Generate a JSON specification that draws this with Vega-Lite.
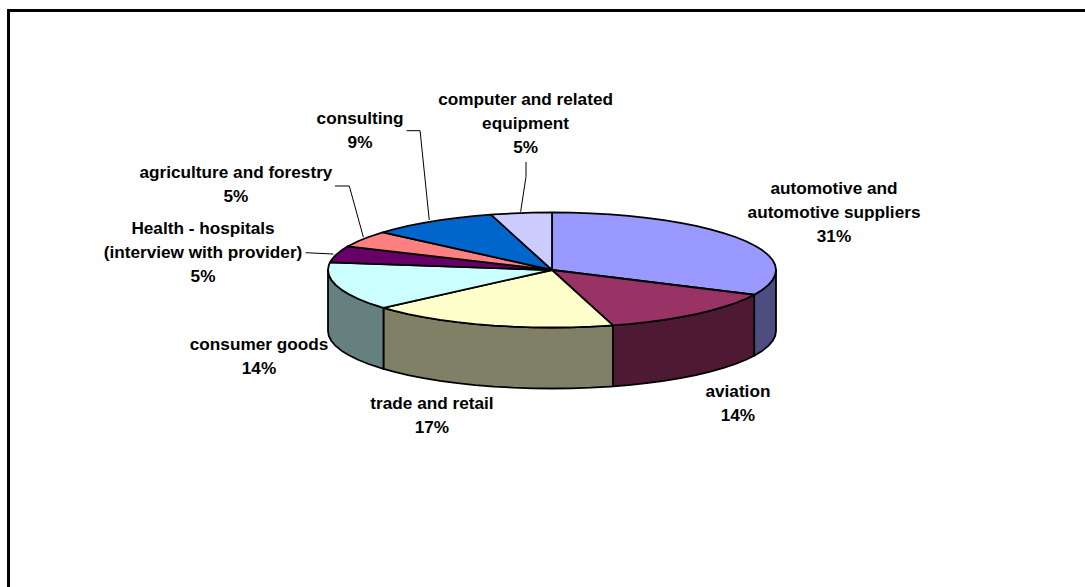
{
"$schema":"https://vega.github.io/schema/vega-lite/v6.json",
"width":1085,"height":587,"padding":0,
"autosize":{"type":"none"},
"background":"white",
"config":{"view":{"stroke":null}},
"datasets":{
"frame":[{"i":0,"u":-2.4263,"v":-5.513},{"i":1,"u":-2.4263,"v":4.513},{"i":2,"u":2.3795,"v":4.513}],
"walls":[
{"slice":"automotive wall","u":1,"v":0,"v2":-1.061},{"slice":"automotive wall","u":0.9962,"v":-0.0872,"v2":-1.1482},{"slice":"automotive wall","u":0.9848,"v":-0.1736,"v2":-1.2346},{"slice":"automotive wall","u":0.9659,"v":-0.2588,"v2":-1.3198},{"slice":"automotive wall","u":0.9397,"v":-0.342,"v2":-1.403},{"slice":"automotive wall","u":0.9063,"v":-0.4226,"v2":-1.4836},{"slice":"automotive wall","u":0.9026,"v":-0.4305,"v2":-1.4915},
{"slice":"aviation wall","u":0.9026,"v":-0.4305,"v2":-1.4915},{"slice":"aviation wall","u":0.866,"v":-0.5,"v2":-1.561},{"slice":"aviation wall","u":0.8192,"v":-0.5736,"v2":-1.6346},{"slice":"aviation wall","u":0.766,"v":-0.6428,"v2":-1.7038},{"slice":"aviation wall","u":0.7071,"v":-0.7071,"v2":-1.7681},{"slice":"aviation wall","u":0.6428,"v":-0.766,"v2":-1.827},{"slice":"aviation wall","u":0.5736,"v":-0.8192,"v2":-1.8802},{"slice":"aviation wall","u":0.5,"v":-0.866,"v2":-1.927},{"slice":"aviation wall","u":0.4226,"v":-0.9063,"v2":-1.9673},{"slice":"aviation wall","u":0.342,"v":-0.9397,"v2":-2.0007},{"slice":"aviation wall","u":0.2723,"v":-0.9622,"v2":-2.0232},
{"slice":"trade wall","u":0.2723,"v":-0.9622,"v2":-2.0232},{"slice":"trade wall","u":0.2588,"v":-0.9659,"v2":-2.0269},{"slice":"trade wall","u":0.1736,"v":-0.9848,"v2":-2.0458},{"slice":"trade wall","u":0.0872,"v":-0.9962,"v2":-2.0572},{"slice":"trade wall","u":0,"v":-1,"v2":-2.061},{"slice":"trade wall","u":-0.0872,"v":-0.9962,"v2":-2.0572},{"slice":"trade wall","u":-0.1736,"v":-0.9848,"v2":-2.0458},{"slice":"trade wall","u":-0.2588,"v":-0.9659,"v2":-2.0269},{"slice":"trade wall","u":-0.342,"v":-0.9397,"v2":-2.0007},{"slice":"trade wall","u":-0.4226,"v":-0.9063,"v2":-1.9673},{"slice":"trade wall","u":-0.5,"v":-0.866,"v2":-1.927},{"slice":"trade wall","u":-0.5736,"v":-0.8192,"v2":-1.8802},{"slice":"trade wall","u":-0.6428,"v":-0.766,"v2":-1.827},{"slice":"trade wall","u":-0.7071,"v":-0.7071,"v2":-1.7681},{"slice":"trade wall","u":-0.7524,"v":-0.6587,"v2":-1.7197},
{"slice":"consumer wall","u":-0.7524,"v":-0.6587,"v2":-1.7197},{"slice":"consumer wall","u":-0.766,"v":-0.6428,"v2":-1.7038},{"slice":"consumer wall","u":-0.8192,"v":-0.5736,"v2":-1.6346},{"slice":"consumer wall","u":-0.866,"v":-0.5,"v2":-1.561},{"slice":"consumer wall","u":-0.9063,"v":-0.4226,"v2":-1.4836},{"slice":"consumer wall","u":-0.9397,"v":-0.342,"v2":-1.403},{"slice":"consumer wall","u":-0.9659,"v":-0.2588,"v2":-1.3198},{"slice":"consumer wall","u":-0.9848,"v":-0.1736,"v2":-1.2346},{"slice":"consumer wall","u":-0.9962,"v":-0.0872,"v2":-1.1482},{"slice":"consumer wall","u":-1,"v":0,"v2":-1.061}
],
"tops":[
{"slice":"automotive","i":0,"u":0,"v":0},{"slice":"automotive","i":1,"u":0,"v":1},{"slice":"automotive","i":2,"u":0.0872,"v":0.9962},{"slice":"automotive","i":3,"u":0.1736,"v":0.9848},{"slice":"automotive","i":4,"u":0.2588,"v":0.9659},{"slice":"automotive","i":5,"u":0.342,"v":0.9397},{"slice":"automotive","i":6,"u":0.4226,"v":0.9063},{"slice":"automotive","i":7,"u":0.5,"v":0.866},{"slice":"automotive","i":8,"u":0.5736,"v":0.8192},{"slice":"automotive","i":9,"u":0.6428,"v":0.766},{"slice":"automotive","i":10,"u":0.7071,"v":0.7071},{"slice":"automotive","i":11,"u":0.766,"v":0.6428},{"slice":"automotive","i":12,"u":0.8192,"v":0.5736},{"slice":"automotive","i":13,"u":0.866,"v":0.5},{"slice":"automotive","i":14,"u":0.9063,"v":0.4226},{"slice":"automotive","i":15,"u":0.9397,"v":0.342},{"slice":"automotive","i":16,"u":0.9659,"v":0.2588},{"slice":"automotive","i":17,"u":0.9848,"v":0.1736},{"slice":"automotive","i":18,"u":0.9962,"v":0.0872},{"slice":"automotive","i":19,"u":1,"v":0},{"slice":"automotive","i":20,"u":0.9962,"v":-0.0872},{"slice":"automotive","i":21,"u":0.9848,"v":-0.1736},{"slice":"automotive","i":22,"u":0.9659,"v":-0.2588},{"slice":"automotive","i":23,"u":0.9397,"v":-0.342},{"slice":"automotive","i":24,"u":0.9063,"v":-0.4226},{"slice":"automotive","i":25,"u":0.9026,"v":-0.4305},{"slice":"automotive","i":26,"u":0,"v":0},
{"slice":"aviation","i":0,"u":0,"v":0},{"slice":"aviation","i":1,"u":0.9026,"v":-0.4305},{"slice":"aviation","i":2,"u":0.866,"v":-0.5},{"slice":"aviation","i":3,"u":0.8192,"v":-0.5736},{"slice":"aviation","i":4,"u":0.766,"v":-0.6428},{"slice":"aviation","i":5,"u":0.7071,"v":-0.7071},{"slice":"aviation","i":6,"u":0.6428,"v":-0.766},{"slice":"aviation","i":7,"u":0.5736,"v":-0.8192},{"slice":"aviation","i":8,"u":0.5,"v":-0.866},{"slice":"aviation","i":9,"u":0.4226,"v":-0.9063},{"slice":"aviation","i":10,"u":0.342,"v":-0.9397},{"slice":"aviation","i":11,"u":0.2723,"v":-0.9622},{"slice":"aviation","i":12,"u":0,"v":0},
{"slice":"trade","i":0,"u":0,"v":0},{"slice":"trade","i":1,"u":0.2723,"v":-0.9622},{"slice":"trade","i":2,"u":0.2588,"v":-0.9659},{"slice":"trade","i":3,"u":0.1736,"v":-0.9848},{"slice":"trade","i":4,"u":0.0872,"v":-0.9962},{"slice":"trade","i":5,"u":0,"v":-1},{"slice":"trade","i":6,"u":-0.0872,"v":-0.9962},{"slice":"trade","i":7,"u":-0.1736,"v":-0.9848},{"slice":"trade","i":8,"u":-0.2588,"v":-0.9659},{"slice":"trade","i":9,"u":-0.342,"v":-0.9397},{"slice":"trade","i":10,"u":-0.4226,"v":-0.9063},{"slice":"trade","i":11,"u":-0.5,"v":-0.866},{"slice":"trade","i":12,"u":-0.5736,"v":-0.8192},{"slice":"trade","i":13,"u":-0.6428,"v":-0.766},{"slice":"trade","i":14,"u":-0.7071,"v":-0.7071},{"slice":"trade","i":15,"u":-0.7524,"v":-0.6587},{"slice":"trade","i":16,"u":0,"v":0},
{"slice":"consumer","i":0,"u":0,"v":0},{"slice":"consumer","i":1,"u":-0.7524,"v":-0.6587},{"slice":"consumer","i":2,"u":-0.766,"v":-0.6428},{"slice":"consumer","i":3,"u":-0.8192,"v":-0.5736},{"slice":"consumer","i":4,"u":-0.866,"v":-0.5},{"slice":"consumer","i":5,"u":-0.9063,"v":-0.4226},{"slice":"consumer","i":6,"u":-0.9397,"v":-0.342},{"slice":"consumer","i":7,"u":-0.9659,"v":-0.2588},{"slice":"consumer","i":8,"u":-0.9848,"v":-0.1736},{"slice":"consumer","i":9,"u":-0.9962,"v":-0.0872},{"slice":"consumer","i":10,"u":-1,"v":0},{"slice":"consumer","i":11,"u":-0.9962,"v":0.0872},{"slice":"consumer","i":12,"u":-0.9912,"v":0.1323},{"slice":"consumer","i":13,"u":0,"v":0},
{"slice":"health","i":0,"u":0,"v":0},{"slice":"health","i":1,"u":-0.9912,"v":0.1323},{"slice":"health","i":2,"u":-0.9848,"v":0.1736},{"slice":"health","i":3,"u":-0.9659,"v":0.2588},{"slice":"health","i":4,"u":-0.9397,"v":0.342},{"slice":"health","i":5,"u":-0.9114,"v":0.4115},{"slice":"health","i":6,"u":0,"v":0},
{"slice":"agriculture","i":0,"u":0,"v":0},{"slice":"agriculture","i":1,"u":-0.9114,"v":0.4115},{"slice":"agriculture","i":2,"u":-0.9063,"v":0.4226},{"slice":"agriculture","i":3,"u":-0.866,"v":0.5},{"slice":"agriculture","i":4,"u":-0.8192,"v":0.5736},{"slice":"agriculture","i":5,"u":-0.766,"v":0.6428},{"slice":"agriculture","i":6,"u":-0.7547,"v":0.6561},{"slice":"agriculture","i":7,"u":0,"v":0},
{"slice":"consulting","i":0,"u":0,"v":0},{"slice":"consulting","i":1,"u":-0.7547,"v":0.6561},{"slice":"consulting","i":2,"u":-0.7071,"v":0.7071},{"slice":"consulting","i":3,"u":-0.6428,"v":0.766},{"slice":"consulting","i":4,"u":-0.5736,"v":0.8192},{"slice":"consulting","i":5,"u":-0.5,"v":0.866},{"slice":"consulting","i":6,"u":-0.4226,"v":0.9063},{"slice":"consulting","i":7,"u":-0.342,"v":0.9397},{"slice":"consulting","i":8,"u":-0.2723,"v":0.9622},{"slice":"consulting","i":9,"u":0,"v":0},
{"slice":"computer","i":0,"u":0,"v":0},{"slice":"computer","i":1,"u":-0.2723,"v":0.9622},{"slice":"computer","i":2,"u":-0.2588,"v":0.9659},{"slice":"computer","i":3,"u":-0.1736,"v":0.9848},{"slice":"computer","i":4,"u":-0.0872,"v":0.9962},{"slice":"computer","i":5,"u":0,"v":1},{"slice":"computer","i":6,"u":0,"v":0}
],
"leaders":[
{"slice":"computer","i":0,"u":-0.116,"v":1.878},{"slice":"computer","i":1,"u":-0.116,"v":1.623},{"slice":"computer","i":2,"u":-0.14,"v":1.014},
{"slice":"consulting","i":0,"u":-0.649,"v":2.423},{"slice":"consulting","i":1,"u":-0.589,"v":2.423},{"slice":"consulting","i":2,"u":-0.548,"v":0.87},
{"slice":"agriculture","i":0,"u":-0.969,"v":1.461},{"slice":"agriculture","i":1,"u":-0.905,"v":1.461},{"slice":"agriculture","i":2,"u":-0.842,"v":0.569},
{"slice":"health","i":0,"u":-1.1,"v":0.301},{"slice":"health","i":1,"u":-0.976,"v":0.278}
],
"labels":[
{"label":"computer and related\nequipment\n5%","u":-0.118,"v":2.957},
{"label":"consulting\n9%","u":-0.857,"v":2.626},
{"label":"agriculture and forestry\n5%","u":-1.411,"v":1.687},
{"label":"Health - hospitals\n(interview with provider)\n5%","u":-1.558,"v":0.713},
{"label":"consumer goods\n14%","u":-1.308,"v":-1.304},
{"label":"trade and retail\n17%","u":-0.536,"v":-2.33},
{"label":"aviation\n14%","u":0.83,"v":-2.122},
{"label":"automotive and\nautomotive suppliers\n31%","u":1.259,"v":1.409}
]
},
"encoding":{
"x":{"field":"u","type":"quantitative","axis":null,"scale":{"domain":[-2.4643,2.3795],"nice":false,"zero":false}},
"y":{"field":"v","type":"quantitative","axis":null,"scale":{"domain":[-5.513,4.6957],"nice":false,"zero":false}}
},
"layer":[
{"data":{"name":"frame"},"mark":{"type":"line","stroke":"black","strokeWidth":3,"strokeCap":"butt"},"encoding":{"order":{"field":"i","type":"ordinal"}}},
{"data":{"name":"walls"},"mark":{"type":"area","stroke":"black","strokeWidth":1.8,"strokeJoin":"round"},
 "encoding":{"y2":{"field":"v2"},"fill":{"field":"slice","type":"nominal","legend":null,"scale":{"domain":["automotive wall","aviation wall","trade wall","consumer wall"],"range":["#4D4D80","#4D1933","#808066","#668080"]}}}},
{"data":{"name":"tops"},"mark":{"type":"line","stroke":"black","strokeWidth":1.8,"strokeJoin":"round"},
 "encoding":{"order":{"field":"i","type":"quantitative"},"detail":{"field":"slice"},"fill":{"field":"slice","type":"nominal","legend":null,"scale":{"domain":["automotive","aviation","trade","consumer","health","agriculture","consulting","computer"],"range":["#9999FF","#993366","#FFFFCC","#CCFFFF","#660066","#FF8080","#0066CC","#CCCCFF"]}}}},
{"data":{"name":"leaders"},"mark":{"type":"line","stroke":"black","strokeWidth":1},"encoding":{"order":{"field":"i","type":"quantitative"},"detail":{"field":"slice"}}},
{"data":{"name":"labels"},"mark":{"type":"text","font":"Liberation Sans","fontWeight":"bold","fontSize":17.2,"lineBreak":"\n","lineHeight":24,"align":"center","baseline":"middle","color":"black"},"encoding":{"text":{"field":"label"}}}
],
"resolve":{"scale":{"fill":"independent"}}
}
